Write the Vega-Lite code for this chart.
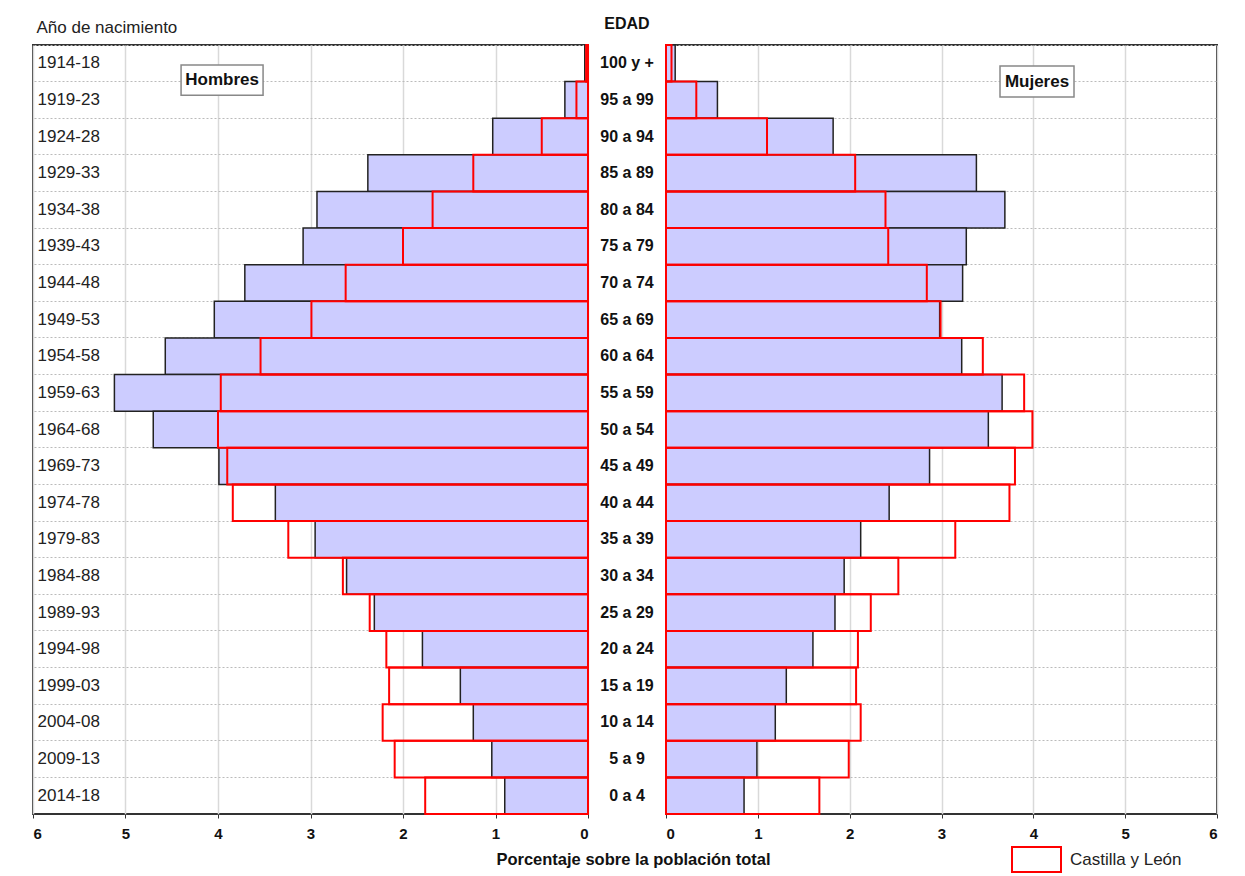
{
  "$schema": "https://vega.github.io/schema/vega-lite/v6.json",
  "background": "white",
  "padding": {"left": 31, "top": 16, "right": 5, "bottom": 5},
  "bounds": "flush",
  "spacing": 0,
  "config": {
    "font": "Liberation Sans",
    "view": {"stroke": "#333", "strokeWidth": 2},
    "axis": {"labelFont": "Liberation Sans", "titleFont": "Liberation Sans"},
    "legend": {"labelFont": "Liberation Sans"}
  },
  "datasets": {
    "grupos": [
      {"edad": "100 y +", "nacimiento": "1914-18"},
      {"edad": "95 a 99", "nacimiento": "1919-23"},
      {"edad": "90 a 94", "nacimiento": "1924-28"},
      {"edad": "85 a 89", "nacimiento": "1929-33"},
      {"edad": "80 a 84", "nacimiento": "1934-38"},
      {"edad": "75 a 79", "nacimiento": "1939-43"},
      {"edad": "70 a 74", "nacimiento": "1944-48"},
      {"edad": "65 a 69", "nacimiento": "1949-53"},
      {"edad": "60 a 64", "nacimiento": "1954-58"},
      {"edad": "55 a 59", "nacimiento": "1959-63"},
      {"edad": "50 a 54", "nacimiento": "1964-68"},
      {"edad": "45 a 49", "nacimiento": "1969-73"},
      {"edad": "40 a 44", "nacimiento": "1974-78"},
      {"edad": "35 a 39", "nacimiento": "1979-83"},
      {"edad": "30 a 34", "nacimiento": "1984-88"},
      {"edad": "25 a 29", "nacimiento": "1989-93"},
      {"edad": "20 a 24", "nacimiento": "1994-98"},
      {"edad": "15 a 19", "nacimiento": "1999-03"},
      {"edad": "10 a 14", "nacimiento": "2004-08"},
      {"edad": "5 a 9", "nacimiento": "2009-13"},
      {"edad": "0 a 4", "nacimiento": "2014-18"}
    ],
    "barras": [
      {"nacimiento": "1914-18", "sexo": "Hombres", "ambito": "Municipio", "pct": 0.035},
      {"nacimiento": "1919-23", "sexo": "Hombres", "ambito": "Municipio", "pct": 0.25},
      {"nacimiento": "1924-28", "sexo": "Hombres", "ambito": "Municipio", "pct": 1.03},
      {"nacimiento": "1929-33", "sexo": "Hombres", "ambito": "Municipio", "pct": 2.38},
      {"nacimiento": "1934-38", "sexo": "Hombres", "ambito": "Municipio", "pct": 2.93},
      {"nacimiento": "1939-43", "sexo": "Hombres", "ambito": "Municipio", "pct": 3.08},
      {"nacimiento": "1944-48", "sexo": "Hombres", "ambito": "Municipio", "pct": 3.71},
      {"nacimiento": "1949-53", "sexo": "Hombres", "ambito": "Municipio", "pct": 4.04},
      {"nacimiento": "1954-58", "sexo": "Hombres", "ambito": "Municipio", "pct": 4.57},
      {"nacimiento": "1959-63", "sexo": "Hombres", "ambito": "Municipio", "pct": 5.12},
      {"nacimiento": "1964-68", "sexo": "Hombres", "ambito": "Municipio", "pct": 4.70},
      {"nacimiento": "1969-73", "sexo": "Hombres", "ambito": "Municipio", "pct": 3.99},
      {"nacimiento": "1974-78", "sexo": "Hombres", "ambito": "Municipio", "pct": 3.38},
      {"nacimiento": "1979-83", "sexo": "Hombres", "ambito": "Municipio", "pct": 2.95},
      {"nacimiento": "1984-88", "sexo": "Hombres", "ambito": "Municipio", "pct": 2.61},
      {"nacimiento": "1989-93", "sexo": "Hombres", "ambito": "Municipio", "pct": 2.31},
      {"nacimiento": "1994-98", "sexo": "Hombres", "ambito": "Municipio", "pct": 1.79},
      {"nacimiento": "1999-03", "sexo": "Hombres", "ambito": "Municipio", "pct": 1.38},
      {"nacimiento": "2004-08", "sexo": "Hombres", "ambito": "Municipio", "pct": 1.24},
      {"nacimiento": "2009-13", "sexo": "Hombres", "ambito": "Municipio", "pct": 1.04},
      {"nacimiento": "2014-18", "sexo": "Hombres", "ambito": "Municipio", "pct": 0.90},
      {"nacimiento": "1914-18", "sexo": "Hombres", "ambito": "Castilla y León", "pct": 0.02},
      {"nacimiento": "1919-23", "sexo": "Hombres", "ambito": "Castilla y León", "pct": 0.125},
      {"nacimiento": "1924-28", "sexo": "Hombres", "ambito": "Castilla y León", "pct": 0.50},
      {"nacimiento": "1929-33", "sexo": "Hombres", "ambito": "Castilla y León", "pct": 1.24},
      {"nacimiento": "1934-38", "sexo": "Hombres", "ambito": "Castilla y León", "pct": 1.68},
      {"nacimiento": "1939-43", "sexo": "Hombres", "ambito": "Castilla y León", "pct": 2.00},
      {"nacimiento": "1944-48", "sexo": "Hombres", "ambito": "Castilla y León", "pct": 2.62},
      {"nacimiento": "1949-53", "sexo": "Hombres", "ambito": "Castilla y León", "pct": 2.99},
      {"nacimiento": "1954-58", "sexo": "Hombres", "ambito": "Castilla y León", "pct": 3.54},
      {"nacimiento": "1959-63", "sexo": "Hombres", "ambito": "Castilla y León", "pct": 3.97},
      {"nacimiento": "1964-68", "sexo": "Hombres", "ambito": "Castilla y León", "pct": 4.00},
      {"nacimiento": "1969-73", "sexo": "Hombres", "ambito": "Castilla y León", "pct": 3.90},
      {"nacimiento": "1974-78", "sexo": "Hombres", "ambito": "Castilla y León", "pct": 3.84},
      {"nacimiento": "1979-83", "sexo": "Hombres", "ambito": "Castilla y León", "pct": 3.24},
      {"nacimiento": "1984-88", "sexo": "Hombres", "ambito": "Castilla y León", "pct": 2.65},
      {"nacimiento": "1989-93", "sexo": "Hombres", "ambito": "Castilla y León", "pct": 2.36},
      {"nacimiento": "1994-98", "sexo": "Hombres", "ambito": "Castilla y León", "pct": 2.18},
      {"nacimiento": "1999-03", "sexo": "Hombres", "ambito": "Castilla y León", "pct": 2.15},
      {"nacimiento": "2004-08", "sexo": "Hombres", "ambito": "Castilla y León", "pct": 2.22},
      {"nacimiento": "2009-13", "sexo": "Hombres", "ambito": "Castilla y León", "pct": 2.09},
      {"nacimiento": "2014-18", "sexo": "Hombres", "ambito": "Castilla y León", "pct": 1.76},
      {"nacimiento": "1914-18", "sexo": "Mujeres", "ambito": "Municipio", "pct": 0.10},
      {"nacimiento": "1919-23", "sexo": "Mujeres", "ambito": "Municipio", "pct": 0.56},
      {"nacimiento": "1924-28", "sexo": "Mujeres", "ambito": "Municipio", "pct": 1.82},
      {"nacimiento": "1929-33", "sexo": "Mujeres", "ambito": "Municipio", "pct": 3.38},
      {"nacimiento": "1934-38", "sexo": "Mujeres", "ambito": "Municipio", "pct": 3.69},
      {"nacimiento": "1939-43", "sexo": "Mujeres", "ambito": "Municipio", "pct": 3.27},
      {"nacimiento": "1944-48", "sexo": "Mujeres", "ambito": "Municipio", "pct": 3.23},
      {"nacimiento": "1949-53", "sexo": "Mujeres", "ambito": "Municipio", "pct": 2.98},
      {"nacimiento": "1954-58", "sexo": "Mujeres", "ambito": "Municipio", "pct": 3.22},
      {"nacimiento": "1959-63", "sexo": "Mujeres", "ambito": "Municipio", "pct": 3.66},
      {"nacimiento": "1964-68", "sexo": "Mujeres", "ambito": "Municipio", "pct": 3.51},
      {"nacimiento": "1969-73", "sexo": "Mujeres", "ambito": "Municipio", "pct": 2.87},
      {"nacimiento": "1974-78", "sexo": "Mujeres", "ambito": "Municipio", "pct": 2.43},
      {"nacimiento": "1979-83", "sexo": "Mujeres", "ambito": "Municipio", "pct": 2.12},
      {"nacimiento": "1984-88", "sexo": "Mujeres", "ambito": "Municipio", "pct": 1.94},
      {"nacimiento": "1989-93", "sexo": "Mujeres", "ambito": "Municipio", "pct": 1.84},
      {"nacimiento": "1994-98", "sexo": "Mujeres", "ambito": "Municipio", "pct": 1.60},
      {"nacimiento": "1999-03", "sexo": "Mujeres", "ambito": "Municipio", "pct": 1.31},
      {"nacimiento": "2004-08", "sexo": "Mujeres", "ambito": "Municipio", "pct": 1.19},
      {"nacimiento": "2009-13", "sexo": "Mujeres", "ambito": "Municipio", "pct": 0.99},
      {"nacimiento": "2014-18", "sexo": "Mujeres", "ambito": "Municipio", "pct": 0.85},
      {"nacimiento": "1914-18", "sexo": "Mujeres", "ambito": "Castilla y León", "pct": 0.06},
      {"nacimiento": "1919-23", "sexo": "Mujeres", "ambito": "Castilla y León", "pct": 0.33},
      {"nacimiento": "1924-28", "sexo": "Mujeres", "ambito": "Castilla y León", "pct": 1.10},
      {"nacimiento": "1929-33", "sexo": "Mujeres", "ambito": "Castilla y León", "pct": 2.06},
      {"nacimiento": "1934-38", "sexo": "Mujeres", "ambito": "Castilla y León", "pct": 2.39},
      {"nacimiento": "1939-43", "sexo": "Mujeres", "ambito": "Castilla y León", "pct": 2.42},
      {"nacimiento": "1944-48", "sexo": "Mujeres", "ambito": "Castilla y León", "pct": 2.84},
      {"nacimiento": "1949-53", "sexo": "Mujeres", "ambito": "Castilla y León", "pct": 2.99},
      {"nacimiento": "1954-58", "sexo": "Mujeres", "ambito": "Castilla y León", "pct": 3.45},
      {"nacimiento": "1959-63", "sexo": "Mujeres", "ambito": "Castilla y León", "pct": 3.90},
      {"nacimiento": "1964-68", "sexo": "Mujeres", "ambito": "Castilla y León", "pct": 3.99},
      {"nacimiento": "1969-73", "sexo": "Mujeres", "ambito": "Castilla y León", "pct": 3.80},
      {"nacimiento": "1974-78", "sexo": "Mujeres", "ambito": "Castilla y León", "pct": 3.74},
      {"nacimiento": "1979-83", "sexo": "Mujeres", "ambito": "Castilla y León", "pct": 3.15},
      {"nacimiento": "1984-88", "sexo": "Mujeres", "ambito": "Castilla y León", "pct": 2.53},
      {"nacimiento": "1989-93", "sexo": "Mujeres", "ambito": "Castilla y León", "pct": 2.23},
      {"nacimiento": "1994-98", "sexo": "Mujeres", "ambito": "Castilla y León", "pct": 2.09},
      {"nacimiento": "1999-03", "sexo": "Mujeres", "ambito": "Castilla y León", "pct": 2.07},
      {"nacimiento": "2004-08", "sexo": "Mujeres", "ambito": "Castilla y León", "pct": 2.12},
      {"nacimiento": "2009-13", "sexo": "Mujeres", "ambito": "Castilla y León", "pct": 1.99},
      {"nacimiento": "2014-18", "sexo": "Mujeres", "ambito": "Castilla y León", "pct": 1.67}
    ]
  },
  "hconcat": [
    {
      "width": 555,
      "height": 769,
      "layer": [
        {
          "data": {"name": "barras"},
          "transform": [{"filter": "datum.sexo === 'Hombres' && datum.ambito === 'Municipio'"}],
          "mark": {"type": "bar", "fill": "#ccccff", "stroke": "#222", "strokeWidth": 1.5},
          "encoding": {
            "y": {"field": "nacimiento", "type": "nominal", "sort": null, "scale": {"paddingInner": 0, "paddingOuter": 0},
              "axis": {"title": "Año de nacimiento", "titleAngle": 0, "titleAlign": "left", "titleBaseline": "middle", "titleX": 3, "titleY": -18, "titleFontSize": 17, "titleFontWeight": "normal", "titleColor": "#222",
                "labelAlign": "left", "labelBaseline": "middle", "labelPadding": -4, "ticks": false, "tickSize": 0, "domain": false, "labelFontSize": 17, "labelColor": "#222",
                "grid": true, "gridDash": [2, 2], "gridColor": "#bbb", "bandPosition": 0}},
            "x": {"field": "pct", "type": "quantitative", "scale": {"domain": [0, 6], "reverse": true, "nice": false},
              "axis": {"title": "Porcentaje sobre la población total", "values": [0, 1, 2, 3, 4, 5, 6], "format": "d", "labelFontSize": 15, "labelFontWeight": "bold", "labelColor": "#111", "tickSize": 4, "tickColor": "#333", "labelPadding": 8, "domain": false, "grid": true, "gridColor": "#d9d9d9", "gridWidth": 1.5,
                "titleX": 600, "titleY": 45, "titleBaseline": "middle", "titleAlign": "center", "titleFontSize": 16.5, "titleFontWeight": "bold", "titleColor": "#111"}}
          }
        },
        {
          "data": {"name": "barras"},
          "transform": [{"filter": "datum.sexo === 'Hombres' && datum.ambito === 'Castilla y León'"}],
          "mark": {"type": "bar", "fill": "transparent", "stroke": "#ff0000", "strokeWidth": 2},
          "encoding": {
            "y": {"field": "nacimiento", "type": "nominal", "sort": null},
            "x": {"field": "pct", "type": "quantitative"}
          }
        },
        {
          "data": {"values": [{"etiqueta": "Hombres"}]},
          "mark": {"type": "point", "shape": "M-1,-0.37H1V0.37H-1Z", "size": 6724, "filled": true, "fill": "white", "fillOpacity": 1, "opacity": 1, "stroke": "#888", "strokeWidth": 1.5, "yOffset": -1.5},
          "encoding": {
            "x": {"datum": 3.956, "type": "quantitative"},
            "y": {"datum": "1919-23", "type": "nominal", "bandPosition": 0}
          }
        },
        {
          "data": {"values": [{"etiqueta": "Hombres"}]},
          "mark": {"type": "text", "fontSize": 17, "fontWeight": "bold", "color": "#111", "align": "center", "baseline": "middle", "yOffset": -1.5},
          "encoding": {
            "x": {"datum": 3.956, "type": "quantitative"},
            "y": {"datum": "1919-23", "type": "nominal", "bandPosition": 0},
            "text": {"field": "etiqueta"}
          }
        }
      ]
    },
    {
      "width": 78,
      "height": 769,
      "view": {"stroke": null},
      "title": {"text": "EDAD", "fontSize": 16, "fontWeight": "bold", "color": "#111", "anchor": "middle", "offset": 13, "font": "Liberation Sans"},
      "data": {"name": "grupos"},
      "mark": {"type": "text", "fontSize": 16, "fontWeight": "bold", "color": "#111", "align": "center", "baseline": "middle"},
      "encoding": {
        "y": {"field": "edad", "type": "nominal", "sort": null, "scale": {"paddingInner": 0, "paddingOuter": 0}, "axis": null},
        "text": {"field": "edad"}
      }
    },
    {
      "width": 551,
      "height": 769,
      "layer": [
        {
          "data": {"name": "barras"},
          "transform": [{"filter": "datum.sexo === 'Mujeres' && datum.ambito === 'Municipio'"}],
          "mark": {"type": "bar", "fill": "#ccccff", "stroke": "#222", "strokeWidth": 1.5},
          "encoding": {
            "y": {"field": "nacimiento", "type": "nominal", "sort": null, "scale": {"paddingInner": 0, "paddingOuter": 0},
              "axis": {"title": null, "labels": false, "ticks": false, "domain": false, "grid": true, "gridDash": [2, 2], "gridColor": "#bbb", "bandPosition": 0}},
            "x": {"field": "pct", "type": "quantitative", "scale": {"domain": [0, 6], "nice": false},
              "axis": {"title": null, "values": [0, 1, 2, 3, 4, 5, 6], "format": "d", "labelFontSize": 15, "labelFontWeight": "bold", "labelColor": "#111", "tickSize": 4, "tickColor": "#333", "labelPadding": 8, "domain": false, "grid": true, "gridColor": "#d9d9d9", "gridWidth": 1.5}}
          }
        },
        {
          "data": {"name": "barras"},
          "transform": [{"filter": "datum.sexo === 'Mujeres' && datum.ambito === 'Castilla y León'"}],
          "mark": {"type": "bar", "fill": "transparent", "strokeWidth": 2},
          "encoding": {
            "y": {"field": "nacimiento", "type": "nominal", "sort": null},
            "x": {"field": "pct", "type": "quantitative"},
            "stroke": {"field": "ambito", "type": "nominal", "scale": {"range": ["#ff0000"]},
              "legend": {"title": null, "orient": "none", "legendX": 978, "legendY": 789, "padding": 0, "symbolType": "M-1,-0.51H1V0.51H-1Z", "symbolSize": 2401, "symbolStrokeWidth": 2, "symbolFillColor": "white", "labelFontSize": 17, "labelColor": "#222", "labelOffset": 8}}
          }
        },
        {
          "data": {"values": [{"etiqueta": "Mujeres"}]},
          "mark": {"type": "point", "shape": "M-1,-0.419H1V0.419H-1Z", "size": 5476, "filled": true, "fill": "white", "fillOpacity": 1, "opacity": 1, "stroke": "#888", "strokeWidth": 1.5},
          "encoding": {
            "x": {"datum": 4.04, "type": "quantitative"},
            "y": {"datum": "1919-23", "type": "nominal", "bandPosition": 0}
          }
        },
        {
          "data": {"values": [{"etiqueta": "Mujeres"}]},
          "mark": {"type": "text", "fontSize": 17, "fontWeight": "bold", "color": "#111", "align": "center", "baseline": "middle"},
          "encoding": {
            "x": {"datum": 4.04, "type": "quantitative"},
            "y": {"datum": "1919-23", "type": "nominal", "bandPosition": 0},
            "text": {"field": "etiqueta"}
          }
        }
      ]
    }
  ]
}
